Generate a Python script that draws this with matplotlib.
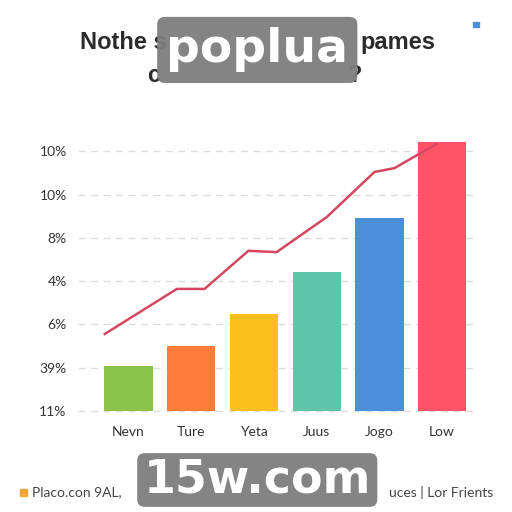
import matplotlib.pyplot as plt
from matplotlib.patches import FancyBboxPatch, Rectangle

# data
categories = ['Nevn', 'Ture', 'Yeta', 'Juus', 'Jogo', 'Low']
bar_values = [1.04, 1.50, 2.24, 3.21, 4.46, 6.21]
bar_colors = ['#8bc34a', '#ff7c3b', '#fcbf1e', '#5ec5a8', '#4a8fd8', '#ff5468']

tick_labels = ['11%', '39%', '6%', '4%', '8%', '10%', '10%']

line_x = [-0.38, 0.77, 1.21, 1.91, 2.36, 3.16, 3.92, 4.24, 4.91]
line_y = [1.78, 2.82, 2.82, 3.70, 3.67, 4.48, 5.52, 5.61, 6.17]

fig = plt.figure(figsize=(5.12, 5.12), dpi=100)
ax = fig.add_axes([0.152, 0.193, 0.779, 0.537])

x = list(range(len(categories)))
ax.bar(x, bar_values, width=0.77, color=bar_colors, zorder=2)
ax.plot(line_x, line_y, color='#d4475f', lw=1.8, zorder=3)

ax.set_xlim(-0.81, 5.55)
ax.set_ylim(-0.05, 6.3)
ax.set_yticks(range(len(tick_labels)))
ax.set_yticklabels(tick_labels, fontsize=10, color='#333333', family='Lato')
ax.set_xticks(x)
ax.set_xticklabels(categories, fontsize=10, color='#333333', family='Lato')
ax.tick_params(length=0)
ax.tick_params(axis='y', pad=8)
ax.tick_params(axis='x', pad=9)
ax.grid(axis='y', ls=(0, (5, 4)), color='#dddddd', lw=1, zorder=0)
for s in ax.spines.values():
    s.set_visible(False)

# title, partly hidden behind the watermark
tkw = dict(va='center', fontsize=17, fontweight='bold', color='#2b2b2b',
           family='Liberation Sans')
fig.text(0.156, 0.917, 'Nothe s', ha='left', **tkw)
fig.text(0.850, 0.917, 'pames', ha='right', **tkw)
fig.text(0.287, 0.852, 'c', ha='left', **tkw)
fig.text(0.707, 0.852, '?', ha='right', **tkw)

# small blue square top right
fig.patches.append(Rectangle((0.923, 0.948), 0.012, 0.010, transform=fig.transFigure,
                             color='#4a8fd8'))

# footer
fig.patches.append(Rectangle((0.040, 0.032), 0.013, 0.013, transform=fig.transFigure,
                             color='#f3a73a'))
fkw = dict(va='center', fontsize=10, color='#444444', family='Lato')
fig.text(0.062, 0.038, 'Placo.con 9AL,', ha='left', **fkw)
fig.text(0.963, 0.038, 'uces | Lor Frients', ha='right', **fkw)

# watermark boxes
for (x0, y0, w, h, txt, fs) in [(0.307, 0.838, 0.391, 0.129, 'poplua', 34),
                                (0.268, 0.010, 0.469, 0.105, '15w.com', 33)]:
    fig.patches.append(FancyBboxPatch((x0, y0), w, h, transform=fig.transFigure,
                                      boxstyle='round,pad=0,rounding_size=0.015',
                                      fc='#7d7d7d', ec='none', alpha=0.95, zorder=5))
    fig.text(x0 + w / 2, y0 + h / 2, txt, ha='center', va='center', fontsize=fs,
             fontweight='bold', color='white', family='DejaVu Sans', zorder=6)

fig.savefig('out.png', dpi=100)
